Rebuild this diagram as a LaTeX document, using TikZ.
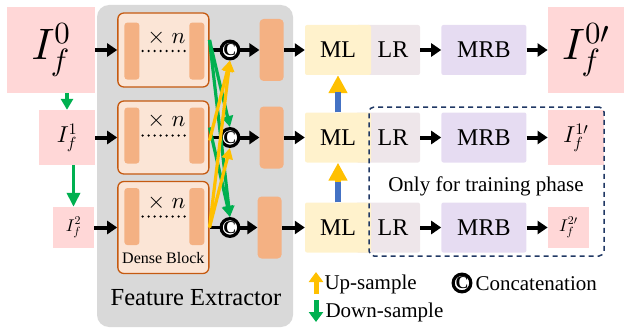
\documentclass[tikz,border=0pt]{standalone}
\usepackage{fontspec}
\setmainfont{Liberation Serif}
\usetikzlibrary{positioning,arrows.meta}
\DeclareFontShape{OML}{cmm}{m}{it}{<->cmmi10}{}
\DeclareFontShape{OMS}{cmsy}{m}{n}{<->cmsy10}{}
\DeclareFontShape{OT1}{cmr}{m}{n}{<->cmr10}{}

\definecolor{pinkbg}{HTML}{FFD7D7}
\definecolor{extgray}{HTML}{D9D9D9}
\definecolor{densefill}{HTML}{FBE5D6}
\definecolor{denseline}{HTML}{C55A11}
\definecolor{barfill}{HTML}{F4B183}
\definecolor{mlfill}{HTML}{FFF2CC}
\definecolor{lrfill}{HTML}{EEE6EA}
\definecolor{mrbfill}{HTML}{E6DCF2}
\definecolor{upcol}{HTML}{FFC000}
\definecolor{downcol}{HTML}{00B050}
\definecolor{shaftcol}{HTML}{4472C4}
\definecolor{navy}{HTML}{203864}

\begin{document}
\begin{tikzpicture}[x=1pt,y=-1pt,>=latex,font=\fontsize{24}{28}\selectfont]
\tikzstyle{img}=[fill=pinkbg,inner sep=0pt]
\tikzstyle{dense}=[draw=denseline,line width=1.3pt,fill=densefill,rounded corners=6pt,
  minimum width=91pt,inner sep=0pt]
\tikzstyle{bar}=[fill=barfill,rounded corners=3pt,minimum width=15pt,minimum height=57pt,
  inner sep=0pt,anchor=north west]
\tikzstyle{featbar}=[fill=barfill,rounded corners=4pt,minimum width=24pt,minimum height=62pt,
  inner sep=0pt]
\tikzstyle{concat}=[circle,draw,line width=3.2pt,fill=white,minimum size=17pt,inner sep=0pt,
  font=\fontsize{18}{18}\selectfont\bfseries]
\tikzstyle{mlbox}=[fill=mlfill,rounded corners=2pt,minimum width=66pt,minimum height=50pt]
\tikzstyle{lrbox}=[fill=lrfill,rounded corners=2pt,minimum width=64pt,minimum height=50pt]
\tikzstyle{mrbbox}=[fill=mrbfill,rounded corners=2pt,minimum width=85pt,minimum height=50pt]
\tikzstyle{flow}=[line width=4pt,-{Triangle[length=10pt,width=13pt]}]
\tikzstyle{downflow}=[downcol,line width=3.2pt,-{Triangle[length=11pt,width=11pt]}]
\tikzstyle{upflow}=[upcol,line width=3.2pt,-{Triangle[length=11pt,width=11pt]}]
\tikzstyle{xn}=[font=\fontsize{23}{23}\selectfont,inner sep=0pt]
\tikzstyle{dotrow}=[line width=2.6pt,dash pattern=on 0pt off 6pt,line cap=round,
  shorten <=3pt,shorten >=3pt]
\tikzstyle{legtxt}=[anchor=west,font=\fontsize{21}{24}\selectfont]

\useasboundingbox (0,0) rectangle (624,329);

% feature extractor background
\node[fill=extgray,rounded corners=12pt,minimum width=196pt,minimum height=322pt,
  inner sep=0pt] (fe) at (195,166) {};
\node (felabel) at (196,298) {\fontsize{24.5}{28}\selectfont Feature Extractor};

% input pyramid
\node[img,minimum width=88pt,minimum height=86pt,font=\fontsize{44}{48}\selectfont]
  (in0) at (51,50) {$I_f^0$};
\node[img,minimum width=56pt,minimum height=55pt,font=\fontsize{23}{25}\selectfont]
  (in1) at (67,137.5) {$I_f^1$};
\node[img,minimum width=41pt,minimum height=41pt,font=\fontsize{17}{19}\selectfont]
  (in2) at (73.5,227.5) {$I_f^2$};

\draw[downflow,line width=3.5pt,-{Triangle[length=11pt,width=12pt]}]
  (in0.south -| in1.north) -- (in1.north);
\draw[downflow,line width=3.5pt,-{Triangle[length=14pt,width=13pt]}]
  (in1.south -| in2.north) -- (in2.north);

% dense blocks
\node[dense,minimum height=74pt,right=22pt of in0] (blk1) {};
\node[dense,minimum height=73pt,right=22pt of in1] (blk2) {};
\node[dense,minimum height=92pt,right=23pt of in2] (blk3) {};

\node[bar] (b1l) at ([xshift=7pt,yshift=-10pt]blk1.north west) {};
\node[bar,anchor=north east] (b1r) at ([xshift=-5pt,yshift=-10pt]blk1.north east) {};
\node[bar,minimum height=56pt] (b2l) at ([xshift=7pt,yshift=-7pt]blk2.north west) {};
\node[bar,minimum height=56pt,anchor=north east] (b2r) at ([xshift=-5pt,yshift=-7pt]blk2.north east) {};
\node[bar] (b3l) at ([xshift=7pt,yshift=-7pt]blk3.north west) {};
\node[bar,anchor=north east] (b3r) at ([xshift=-5pt,yshift=-7pt]blk3.north east) {};

\node[xn] (n1) at ([xshift=3pt,yshift=-25pt]blk1.north) {$\times\;n$};
\node[xn] (n2) at ([xshift=3pt,yshift=-20pt]blk2.north) {$\times\;n$};
\node[xn] (n3) at ([xshift=3pt,yshift=-22pt]blk3.north) {$\times\;n$};
\draw[dotrow] (b1l.east) -- (b1r.west);
\draw[dotrow] (b2l.east) -- (b2r.west);
\draw[dotrow] (b3l.east) -- (b3r.west);
\node[font=\fontsize{16}{18}\selectfont] (dbl) at ([yshift=16pt]blk3.south) {Dense Block};

\draw[flow] (in0.east) -- (blk1.west);
\draw[flow] (in1.east) -- (blk2.west);
\draw[flow] (in2.east) -- (blk3.west);

% concatenation and features
\node[concat,right=10pt of blk1] (c1) {C};
\node[concat,right=10pt of blk2] (c2) {C};
\node[concat,right=10pt of blk3] (c3) {C};
\draw[line width=3.5pt] (blk1.east) -- (c1.west);
\draw[line width=3.5pt] (blk2.east) -- (c2.west);
\draw[line width=3.5pt] (blk3.east) -- (c3.west);

\node[featbar,right=19pt of c1] (f1) {};
\node[featbar,right=19pt of c2] (f2) {};
\node[featbar,right=17pt of c3] (f3) {};
\draw[flow] (c1.east) -- (f1.west);
\draw[flow] (c2.east) -- (f2.west);
\draw[flow] (c3.east) -- (f3.west);

\draw[downflow] ([yshift=10pt]blk1.east) -- (c2.north);
\draw[downflow] ([yshift=10pt]blk1.east) -- (c3.north);
\draw[downflow] ([yshift=10pt]blk2.east) -- (c3.north);
\draw[upflow] (blk3.east) -- (c2.south);
\draw[upflow] (blk3.east) -- (c1.south);
\draw[upflow] ([yshift=-3pt]blk2.east) -- (c1.south);

% reconstruction branches
\node[lrbox,right=72pt of f1] (lr1) {\hspace*{10pt}LR};
\node[lrbox,right=72pt of f2] (lr2) {\hspace*{10pt}LR};
\node[lrbox,right=74pt of f3] (lr3) {\hspace*{10pt}LR};
\node[mlbox,right=21pt of f1] (ml1) {ML};
\node[mlbox,right=21pt of f2] (ml2) {ML};
\node[mlbox,right=23pt of f3] (ml3) {ML};
\node[mrbbox,right=21pt of lr1] (mrb1) {MRB};
\node[mrbbox,right=21pt of lr2] (mrb2) {MRB};
\node[mrbbox,right=21pt of lr3] (mrb3) {MRB};

\node[img,minimum width=76pt,minimum height=86pt,right=21pt of mrb1,
  font=\fontsize{44}{48}\selectfont] (out0) {$I_f^{0\prime}$};
\node[img,minimum width=56pt,minimum height=55pt,right=21pt of mrb2,
  font=\fontsize{23}{25}\selectfont] (out1) {$I_f^{1\prime}$};
\node[img,minimum width=41pt,minimum height=41pt,right=21pt of mrb3,
  font=\fontsize{17}{19}\selectfont] (out2) {$I_f^{2\prime}$};

\draw[flow] (f1.east) -- (ml1.west);
\draw[flow] (f2.east) -- (ml2.west);
\draw[flow] (f3.east) -- (ml3.west);
\draw[flow] (lr1.east) -- (mrb1.west);
\draw[flow] (lr2.east) -- (mrb2.west);
\draw[flow] (lr3.east) -- (mrb3.west);
\draw[flow] (mrb1.east) -- (out0.west);
\draw[flow] (mrb2.east) -- (out1.west);
\draw[flow] (mrb3.east) -- (out2.west);

\draw[upcol,line width=6pt,-{Triangle[length=18pt,width=18pt]}] (ml2.north) -- (ml1.south);
\draw[shaftcol,line width=6pt] (ml2.north) -- ([yshift=20pt]ml2.north);
\draw[upcol,line width=6pt,-{Triangle[length=18pt,width=18pt]}] (ml3.north) -- (ml2.south);
\draw[shaftcol,line width=6pt] (ml3.north) -- ([yshift=20pt]ml3.north);

% training-only region
\node[draw=navy,line width=1.5pt,dash pattern=on 5pt off 4pt,rounded corners=5pt,
  minimum width=235pt,minimum height=149pt,inner sep=0pt] (train) at (486.5,181.5) {};
\node[font=\fontsize{21}{24}\selectfont] (traintxt) at (486,186) {Only for training phase};

% legend
\coordinate (upbot) at (316,294);
\coordinate (uptop) at (316,272);
\draw[upcol,line width=5pt,-{Triangle[length=10pt,width=14pt]}] (upbot) -- (uptop);
\node[legtxt] (uptxt) at (321,284) {Up-sample};
\coordinate (dntop) at (316,300);
\coordinate (dnbot) at (316,322);
\draw[downcol,line width=5pt,-{Triangle[length=10pt,width=14pt]}] (dntop) -- (dnbot);
\node[legtxt] (dntxt) at (322,312) {Down-sample};
\node[concat] (lcat) at (462,283) {C};
\node[legtxt] (cattxt) at (472,284) {Concatenation};
\end{tikzpicture}
\end{document}
